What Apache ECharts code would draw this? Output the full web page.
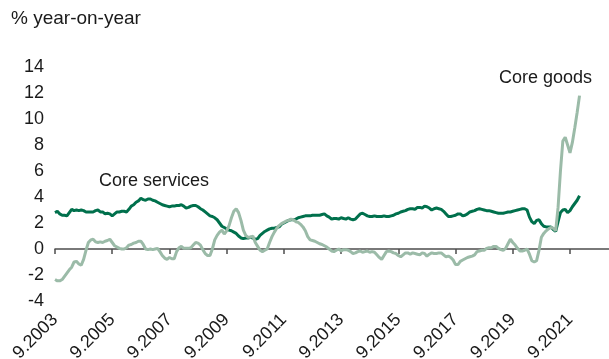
<!DOCTYPE html>
<html>
<head>
<meta charset="utf-8">
<script src="https://cdn.jsdelivr.net/npm/echarts@6/dist/echarts.min.js"></script>
<style>
  html, body { margin: 0; padding: 0; background: #fff; }
  #chart { width: 609px; height: 359px; }
</style>
</head>
<body>
<div id="chart"></div>
<script>
// monthly values, first month = 9.2003
const coreServices = [
  2.8, 2.9, 2.7, 2.6, 2.6, 2.55, 2.8, 3.05, 2.95, 3.0, 2.95, 3.0,
  2.95, 2.85, 2.85, 2.85, 2.85, 2.95, 3.0, 2.85, 2.85, 2.7, 2.75, 2.7,
  2.55, 2.7, 2.85, 2.85, 2.9, 2.9, 2.85, 3.05, 3.3, 3.4, 3.6, 3.7,
  3.9, 3.8, 3.75, 3.85, 3.85, 3.75, 3.7, 3.6, 3.5, 3.4, 3.35, 3.3,
  3.25, 3.3, 3.3, 3.35, 3.35, 3.4, 3.3, 3.15, 3.2, 3.3, 3.35, 3.35,
  3.25, 3.1, 3.0, 2.85, 2.7, 2.55, 2.5, 2.4, 2.25, 2.0, 1.75, 1.65,
  1.55, 1.45, 1.4, 1.3, 1.2, 1.0, 0.85, 0.8, 0.85, 0.85, 0.9, 0.85,
  0.75, 0.8, 1.05, 1.2, 1.35, 1.45, 1.55, 1.6, 1.6, 1.65, 1.7, 1.9,
  2.0, 2.1, 2.2, 2.25, 2.25, 2.3, 2.4, 2.45, 2.5, 2.55, 2.55, 2.55,
  2.6, 2.6, 2.6, 2.6, 2.65, 2.7, 2.55, 2.45, 2.3, 2.35, 2.35, 2.3,
  2.4, 2.35, 2.3, 2.4, 2.3, 2.25, 2.3, 2.5, 2.7, 2.75, 2.65, 2.55,
  2.5, 2.5, 2.55, 2.5, 2.5, 2.5, 2.55, 2.5, 2.5, 2.55, 2.6, 2.7,
  2.75, 2.85, 2.9, 2.95, 3.05, 3.1, 3.1, 3.05, 3.2, 3.2, 3.15, 3.3,
  3.25, 3.15, 3.0, 3.1, 3.15, 3.1, 3.05, 2.9, 2.7, 2.5, 2.5, 2.55,
  2.6, 2.7, 2.7, 2.55, 2.6, 2.7, 2.85, 2.9, 2.95, 3.05, 3.1, 3.05,
  3.0, 2.95, 2.95, 2.9, 2.85, 2.8, 2.75, 2.75, 2.75, 2.8, 2.85, 2.85,
  2.9, 2.95, 3.0, 3.05, 3.1, 3.1, 3.0, 2.45, 2.1, 1.95, 2.2, 2.25,
  1.95, 1.75, 1.7, 1.7, 1.7, 1.5, 1.35, 2.1, 2.8, 3.0, 3.05, 2.8,
  2.95, 3.25, 3.5, 3.75, 4.1
];
const coreGoods = [
  -2.35, -2.45, -2.45, -2.35, -2.1, -1.85, -1.6, -1.4, -1.0, -0.95, -1.15, -1.25,
  -0.8, -0.1, 0.5, 0.7, 0.75, 0.55, 0.5, 0.55, 0.5, 0.6, 0.65, 0.75,
  0.5, 0.25, 0.15, 0.05, 0.0, 0.0, 0.1, 0.3, 0.35, 0.45, 0.5, 0.6,
  0.6, 0.35, 0.0, -0.05, 0.0, -0.05, 0.0, 0.05, -0.2, -0.5, -0.7, -0.8,
  -0.65, -0.75, -0.75, -0.2, 0.1, 0.2, 0.05, 0.05, 0.05, 0.1, 0.3, 0.5,
  0.45, 0.3, -0.05, -0.35, -0.5, -0.5, 0.0, 0.7, 1.05, 1.3, 1.45, 1.15,
  1.4, 1.8, 2.4, 2.9, 3.1, 2.8, 2.2, 1.45, 1.05, 0.9, 0.9, 1.0,
  0.5, 0.2, -0.1, -0.2, -0.1, 0.0, 0.5, 0.95, 1.3, 1.6, 1.8, 1.95,
  2.05, 2.15, 2.2, 2.3, 2.25, 2.1, 2.05, 1.9, 1.7, 1.4, 0.95, 0.7,
  0.65, 0.6, 0.5, 0.4, 0.35, 0.25, 0.15, 0.0, -0.15, -0.2, -0.1, 0.0,
  -0.15, -0.05, -0.05, -0.1, -0.2, -0.35, -0.3, -0.2, -0.15, -0.25, -0.2, -0.15,
  -0.25, -0.2, -0.25, -0.45, -0.65, -0.8, -0.5, -0.2, -0.15, -0.2, -0.3, -0.35,
  -0.5, -0.6, -0.45, -0.3, -0.3, -0.4, -0.3, -0.35, -0.4, -0.45, -0.3, -0.35,
  -0.55, -0.4, -0.3, -0.35, -0.35, -0.3, -0.3, -0.45, -0.6, -0.55, -0.65, -0.85,
  -1.2, -1.2, -0.95, -0.85, -0.75, -0.65, -0.6, -0.55, -0.45, -0.2, -0.15, -0.1,
  -0.1, 0.05, 0.1, 0.1, 0.2, 0.2, 0.05, -0.05, -0.1, 0.05, 0.4, 0.75,
  0.5, 0.3, 0.05, -0.15, -0.15, -0.1, 0.0, -0.4, -0.9, -1.0, -0.9, -0.1,
  0.9, 1.2, 1.4, 1.55, 1.65, 1.6, 1.4, 3.2, 6.0, 8.3, 8.6, 8.0,
  7.4, 8.2, 9.3, 10.5, 11.8
];
const tickLabels = ['9.2003', '9.2005', '9.2007', '9.2009', '9.2011', '9.2013', '9.2015', '9.2017', '9.2019', '9.2021'];
const tickStep = 24; // months between labels

const font = '"Liberation Sans", Arial, sans-serif';
const textColor = '#1a1a1a';
const tickValues = tickLabels.map((_, k) => k * tickStep);
const xMax = 233.2;

// same rectangle twice: grid 0 holds the lines and the zero axis, grid 1 only the date labels
const gridRect = {
  left: 55, right: -2, top: 67, bottom: 58,
  outerBounds: { left: -100, top: -100, right: -100, bottom: -100 }
};

const chart = echarts.init(document.getElementById('chart'));
chart.setOption({
  animation: false,
  grid: [Object.assign({}, gridRect), Object.assign({}, gridRect)],
  graphic: [
    { type: 'text', left: 11, top: 9, style: { text: '% year-on-year', font: '19px ' + font, fill: textColor } },
    { type: 'text', left: 99, top: 172, style: { text: 'Core services', font: '18px ' + font, fill: textColor } },
    { type: 'text', left: 499, top: 69, style: { text: 'Core goods', font: '18px ' + font, fill: textColor } }
  ],
  xAxis: [
    {
      gridIndex: 0,
      type: 'value',
      min: 0,
      max: xMax,
      axisLine: { onZero: true, lineStyle: { color: '#4d4d4d', width: 1.5 } },
      axisTick: { show: true, length: 5, customValues: tickValues, lineStyle: { color: '#4d4d4d', width: 1.5 } },
      axisLabel: { show: false },
      splitLine: { show: false }
    },
    {
      gridIndex: 1,
      type: 'value',
      position: 'bottom',
      min: 0,
      max: xMax,
      axisLine: { show: false, onZero: false },
      axisTick: { show: false },
      splitLine: { show: false },
      axisLabel: {
        customValues: tickValues,
        rotate: 45,
        margin: 16,
        fontSize: 18,
        fontFamily: font,
        color: textColor,
        formatter: v => tickLabels[Math.round(v / tickStep)] || ''
      }
    }
  ],
  yAxis: [
    {
      gridIndex: 0,
      type: 'value',
      min: -4,
      max: 14,
      interval: 2,
      axisLine: { show: false },
      axisTick: { show: false },
      splitLine: { show: false },
      axisLabel: { margin: 11, fontSize: 18, fontFamily: font, color: textColor }
    },
    {
      gridIndex: 1,
      type: 'value',
      min: -4,
      max: 14,
      show: false
    }
  ],
  series: [
    {
      name: 'Core services',
      type: 'line',
      data: coreServices.map((v, i) => [i, v]),
      showSymbol: false,
      lineStyle: { color: '#00704c', width: 3 },
      itemStyle: { color: '#00704c' },
      emphasis: { disabled: true }
    },
    {
      name: 'Core goods',
      type: 'line',
      data: coreGoods.map((v, i) => [i, v]),
      showSymbol: false,
      lineStyle: { color: '#9bbba8', width: 3 },
      itemStyle: { color: '#9bbba8' },
      emphasis: { disabled: true }
    }
  ]
});
</script>
</body>
</html>
